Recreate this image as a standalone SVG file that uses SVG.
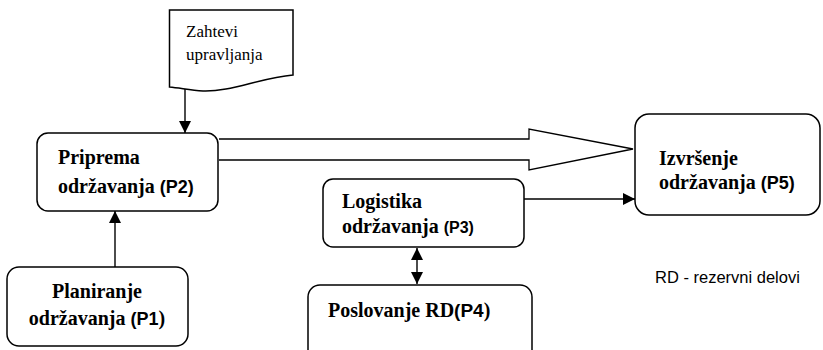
<svg xmlns="http://www.w3.org/2000/svg" width="823" height="350" viewBox="0 0 823 350">
<style>
.box{fill:#fff;stroke:#000;stroke-width:1.5}
.ln{fill:none;stroke:#000;stroke-width:1.4}
.t{font-family:"Liberation Serif","Times New Roman",serif;font-weight:bold;font-size:20px;fill:#000}
.s{font-family:"Liberation Sans",Arial,sans-serif;font-weight:bold;font-size:18px}
.r{font-family:"Liberation Serif","Times New Roman",serif;font-size:17px;fill:#000}
.lg{font-family:"Liberation Sans",Arial,sans-serif;font-size:16.5px;fill:#000}
</style>
<defs>
<marker id="ah" viewBox="0 0 12 12" refX="12" refY="6" markerWidth="12" markerHeight="12" markerUnits="userSpaceOnUse" orient="auto-start-reverse">
<path d="M0,0 L12,6 L0,12 z" fill="#000"/>
</marker>
</defs>
<g id="zahtevi">
<path class="box" d="M169.5,10 H293 V75 C260,78 230,92 203,91 C190,90 180,88 169.5,87 Z"/>
<text class="r" x="186" y="37">Zahtevi</text>
<text class="r" x="186" y="60">upravljanja</text>
</g>
<g id="p2">
<rect class="box" x="37" y="133" width="181" height="78" rx="11"/>
<text class="t" x="58" y="164">Priprema</text>
<text class="t" x="58" y="193">održavanja <tspan class="s">(P2)</tspan></text>
</g>
<g id="p5">
<rect class="box" x="635" y="114" width="185" height="101" rx="14"/>
<text class="t" x="659" y="165">Izvršenje</text>
<text class="t" x="659" y="189">održavanja <tspan class="s">(P5)</tspan></text>
</g>
<g id="p3">
<rect class="box" x="323" y="179" width="201" height="68" rx="10"/>
<text class="t" x="342" y="208">Logistika</text>
<text class="t" x="342" y="233">održavanja <tspan class="s" style="font-size:16px">(P3)</tspan></text>
</g>
<g id="p4">
<rect class="box" x="308" y="285" width="224" height="80" rx="12"/>
<text class="t" x="328" y="317">Poslovanje RD<tspan class="s" style="font-size:19px">(P4</tspan>)</text>
</g>
<g id="p1">
<rect class="box" x="7" y="267" width="181" height="79" rx="12"/>
<text class="t" x="97" y="298" text-anchor="middle">Planiranje</text>
<text class="t" x="97" y="325" text-anchor="middle">održavanja <tspan class="s">(P1</tspan>)</text>
</g>
<g id="legend">
<text class="lg" x="655" y="283">RD - rezervni delovi</text>
</g>
<g id="connectors">
<line class="ln" x1="185" y1="89" x2="185" y2="133" marker-end="url(#ah)"/>
<line class="ln" x1="115" y1="267" x2="115" y2="211" marker-end="url(#ah)"/>
<line class="ln" x1="524" y1="199" x2="635" y2="199" marker-end="url(#ah)"/>
<line class="ln" x1="417" y1="248" x2="417" y2="284" marker-start="url(#ah)" marker-end="url(#ah)"/>
<path class="box" style="stroke-width:1.3" d="M219,139 H529 V129 L633,149 L529,170 V160 H219"/>
</g>
</svg>
